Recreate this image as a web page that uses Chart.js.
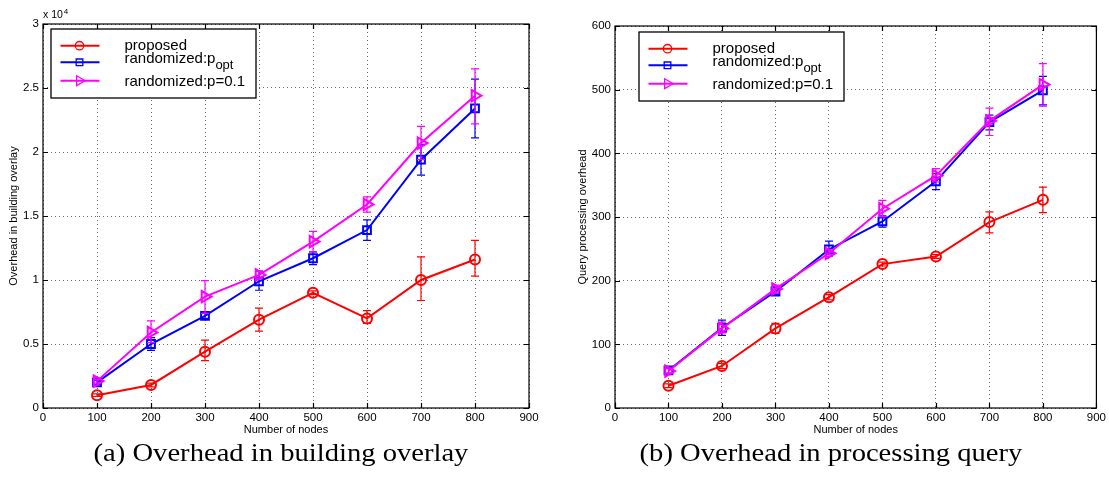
<!DOCTYPE html>
<html>
<head>
<meta charset="utf-8">
<script src="https://cdn.jsdelivr.net/npm/chart.js@4.4.1/dist/chart.umd.min.js"></script>
<style>
  body { margin: 0; background: #fff; width: 1109px; height: 477px; position: relative; overflow: hidden; }
  canvas { position: absolute; top: 0; }
  .cap { position: absolute; top: 438px; width: 420px; text-align: center; white-space: nowrap;
         font: 26px "Liberation Serif", "Times New Roman", serif; color: #000; transform: scaleX(1.1); }
</style>
</head>
<body>
<canvas id="overlay" width="555" height="440" style="left:0"></canvas>
<canvas id="query" width="554" height="440" style="left:555px"></canvas>
<div class="cap" style="left:71px">(a) Overhead in building overlay</div>
<div class="cap" style="left:621px">(b) Overhead in processing query</div>
<script>
const nodes = [100, 200, 300, 400, 500, 600, 700, 800];
const seriesNames = ['proposed', 'randomized:p_{opt}', 'randomized:p=0.1'];

// overhead in building overlay (messages)
const overlayProposed   = [1000, 1800, 4400, 6900, 9000, 7000, 10000, 11600];
const overlayProposedLo = [900, 1650, 3700, 6000, 8850, 6600, 8400, 10300];
const overlayProposedHi = [1100, 1950, 5300, 7800, 9150, 7600, 11800, 13100];
const overlayOpt        = [2000, 5000, 7200, 9900, 11700, 13900, 19400, 23400];
const overlayOptLo      = [1850, 4500, 7000, 9200, 11200, 13100, 18200, 21100];
const overlayOptHi      = [2150, 5500, 7400, 10700, 12200, 14700, 20600, 25700];
const overlayP01        = [2100, 5900, 8700, 10400, 13000, 15900, 20700, 24400];
const overlayP01Lo      = [1950, 5100, 7400, 10100, 12200, 15300, 19400, 22200];
const overlayP01Hi      = [2250, 6800, 9950, 10700, 13800, 16500, 22000, 26500];
const overlayTicks = [0, 5000, 10000, 15000, 20000, 25000, 30000];

// overhead in processing query
const queryProposed   = [35, 66, 125, 174, 226, 238, 292, 327];
const queryProposedLo = [32, 62, 117, 170, 223, 235, 275, 307];
const queryProposedHi = [38, 70, 133, 178, 229, 241, 308, 347];
const queryOpt        = [59, 126, 183, 249, 293, 356, 449, 499];
const queryOptLo      = [55, 114, 178, 242, 284, 343, 437, 476];
const queryOptHi      = [63, 138, 190, 262, 302, 368, 460, 521];
const queryP01        = [58, 125, 187, 243, 313, 365, 451, 508];
const queryP01Lo      = [54, 118, 180, 238, 300, 355, 428, 474];
const queryP01Hi      = [62, 135, 193, 248, 326, 376, 471, 541];
const queryTicks = [0, 100, 200, 300, 400, 500, 600];

const xTicks = [0, 100, 200, 300, 400, 500, 600, 700, 800, 900];

const FONT = '"Liberation Sans", Arial, Helvetica, sans-serif';
const styles = [
  { color: '#ff0000', pointStyle: 'circle',   radius: 5,   rotation: 0 },
  { color: '#0000ff', pointStyle: 'rect',     radius: 5.5, rotation: 0 },
  { color: '#ff00ff', pointStyle: 'triangle', radius: 6.5, rotation: 90 }
];

// box, inward ticks, error bars and the legend, drawn the matlab way
const matlabFrame = {
  id: 'matlabFrame',
  afterDatasetDraw(chart, args) {
    const ds = chart.data.datasets[args.index];
    if (!ds.lower) return;
    const ctx = chart.ctx, y = chart.scales.y;
    ctx.save();
    ctx.strokeStyle = ds.borderColor;
    ctx.lineWidth = 1.2;
    args.meta.data.forEach((pt, i) => {
      const top = y.getPixelForValue(ds.upper[i]);
      const bot = y.getPixelForValue(ds.lower[i]);
      ctx.beginPath();
      ctx.moveTo(pt.x, top); ctx.lineTo(pt.x, bot);
      ctx.moveTo(pt.x - 4, top); ctx.lineTo(pt.x + 4, top);
      ctx.moveTo(pt.x - 4, bot); ctx.lineTo(pt.x + 4, bot);
      ctx.stroke();
    });
    ctx.restore();
  },
  afterDraw(chart, args, opts) {
    const { ctx, chartArea: a, scales } = chart;
    ctx.save();
    ctx.strokeStyle = '#000';
    ctx.lineWidth = 1.2;
    ctx.strokeRect(a.left, a.top, a.right - a.left, a.bottom - a.top);
    ctx.beginPath();
    scales.x.ticks.forEach(t => {
      const px = Math.round(scales.x.getPixelForValue(t.value)) + 0.5;
      ctx.moveTo(px, a.bottom); ctx.lineTo(px, a.bottom - 5);
      ctx.moveTo(px, a.top); ctx.lineTo(px, a.top + 5);
    });
    scales.y.ticks.forEach(t => {
      const py = Math.round(scales.y.getPixelForValue(t.value)) + 0.5;
      ctx.moveTo(a.left, py); ctx.lineTo(a.left + 5, py);
      ctx.moveTo(a.right, py); ctx.lineTo(a.right - 5, py);
    });
    ctx.stroke();

    ctx.fillStyle = '#000';
    ctx.textAlign = 'left';
    ctx.textBaseline = 'alphabetic';
    if (opts.exponent) {
      ctx.font = '10.5px ' + FONT;
      ctx.fillText('x 10', a.left, a.top - 6);
      const w = ctx.measureText('x 10').width;
      ctx.font = '8px ' + FONT;
      ctx.fillText(opts.exponent, a.left + w + 1, a.top - 10);
    }

    // legend
    const bx = a.left + opts.legendX, by = a.top + opts.legendY;
    ctx.fillStyle = '#fff';
    ctx.fillRect(bx, by, 205, 69);
    ctx.lineWidth = 1.3;
    ctx.strokeRect(bx, by, 205, 69);
    const rows = [16.7, 33.3, 51.7];
    chart.data.datasets.forEach((ds, i) => {
      const ry = by + rows[i];
      ctx.strokeStyle = ds.borderColor;
      ctx.lineWidth = 2;
      ctx.beginPath();
      ctx.moveTo(bx + 9.5, ry); ctx.lineTo(bx + 48.5, ry);
      ctx.stroke();
      ctx.fillStyle = 'rgba(0,0,0,0)';
      ctx.lineWidth = 1.3;
      Chart.helpers.drawPoint(ctx, {
        pointStyle: ds.pointStyle, rotation: ds.pointRotation,
        radius: ds.pointRadius - 0.8, borderWidth: 1.3
      }, bx + 28.5, ry);

      ctx.fillStyle = '#000';
      ctx.font = '15px ' + FONT;
      const m = ds.label.match(/^(.*)_\{(.*)\}$/);
      if (m) {
        ctx.fillText(m[1], bx + 73.5, ry + 0.8);
        const w = ctx.measureText(m[1]).width;
        ctx.font = '13px ' + FONT;
        ctx.fillText(m[2], bx + 73.5 + w, ry + 6.8);
      } else {
        ctx.fillText(ds.label, bx + 73.5, ry + (i === 0 ? 4.7 : 5));
      }
    });
    ctx.restore();
  }
};

function makeSeries(values, lo, hi, i) {
  const s = styles[i];
  return {
    label: seriesNames[i],
    data: nodes.map((n, k) => ({ x: n, y: values[k] })),
    lower: lo,
    upper: hi,
    borderColor: s.color,
    backgroundColor: s.color,
    borderWidth: 2,
    pointStyle: s.pointStyle,
    pointRotation: s.rotation,
    pointRadius: s.radius,
    pointBorderWidth: 2,
    pointBackgroundColor: 'rgba(0,0,0,0)',
    pointBorderColor: s.color,
    tension: 0,
    order: 2 - i
  };
}

function makeChart(id, datasets, o) {
  const tickFont = { family: FONT, size: 11.5 };
  return new Chart(document.getElementById(id), {
    type: 'line',
    data: { datasets: datasets },
    options: {
      responsive: false,
      animation: false,
      events: [],
      layout: { padding: { left: 0, top: o.top, right: o.right, bottom: 0 } },
      plugins: {
        legend: { display: false },
        tooltip: { enabled: false },
        matlabFrame: { legendX: o.legendX, legendY: o.legendY, exponent: o.exponent }
      },
      scales: {
        x: {
          type: 'linear', min: 0, max: 900,
          afterBuildTicks: s => { s.ticks = xTicks.map(v => ({ value: v })); },
          ticks: { font: tickFont, color: '#000', padding: 3, maxRotation: 0, autoSkip: false },
          grid: { color: '#666', lineWidth: 1, drawTicks: false },
          border: { display: false, dash: [1, 3] },
          title: { display: true, text: 'Number of nodes', color: '#000',
                   font: { family: FONT, size: 11 }, padding: { top: 0, bottom: 3 } },
          afterFit: s => { s.height = 32; }
        },
        y: {
          type: 'linear', min: o.ticks[0], max: o.ticks[o.ticks.length - 1],
          afterBuildTicks: s => { s.ticks = o.ticks.map(v => ({ value: v })); },
          ticks: { font: tickFont, color: '#000', padding: 4, callback: o.format },
          grid: { color: '#666', lineWidth: 1, drawTicks: false },
          border: { display: false, dash: [1, 3] },
          title: { display: true, text: o.yTitle, color: '#000',
                   font: { family: FONT, size: 11 }, padding: { top: o.titlePad, bottom: 0 } },
          afterFit: s => { s.width = o.yWidth; }
        }
      }
    },
    plugins: [matlabFrame]
  });
}

makeChart('overlay', [
  makeSeries(overlayProposed, overlayProposedLo, overlayProposedHi, 0),
  makeSeries(overlayOpt, overlayOptLo, overlayOptHi, 1),
  makeSeries(overlayP01, overlayP01Lo, overlayP01Hi, 2)
], {
  top: 24, right: 26, yWidth: 43, titlePad: 7, legendX: 8, legendY: 5,
  ticks: overlayTicks, exponent: '4', yTitle: 'Overhead in building overlay',
  format: v => String(v / 10000)
});

makeChart('query', [
  makeSeries(queryProposed, queryProposedLo, queryProposedHi, 0),
  makeSeries(queryOpt, queryOptLo, queryOptHi, 1),
  makeSeries(queryP01, queryP01Lo, queryP01Hi, 2)
], {
  top: 26, right: 10, yWidth: 60, titlePad: 21, legendX: 24, legendY: 6,
  ticks: queryTicks, exponent: null, yTitle: 'Query processing overhead',
  format: v => String(v)
});
</script>
</body>
</html>
